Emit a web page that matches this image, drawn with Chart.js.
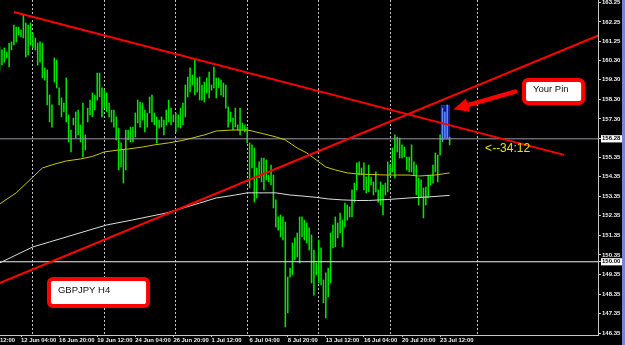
<!DOCTYPE html>
<html>
<head>
<meta charset="utf-8">
<script src="https://cdn.jsdelivr.net/npm/chart.js@4.4.1/dist/chart.umd.min.js"></script>
<style>
  html, body { margin: 0; padding: 0; background: #000; }
  #wrap { width: 622px; height: 345px; border-right: 3px solid #7c84cc; }
</style>
</head>
<body>
<div id="wrap"><canvas id="chart" width="622" height="345"></canvas></div>
<script>
// GBPJPY H4, one entry per bar (bar index 0 = left edge of the picture)
const barHigh = [
  160.97,160.82,160.92,160.71,161.17,161.23,162.09,161.99,161.99,161.84,
  162.60,162.20,162.09,162.20,161.69,161.43,161.17,161.23,161.17,159.90,
  159.80,158.52,158.01,160.41,160.31,158.88,158.37,158.11,159.39,157.50,
  156.73,157.34,157.65,157.75,156.99,158.11,156.48,157.85,158.26,158.62,
  158.52,159.64,159.64,158.88,158.77,158.62,158.11,157.75,157.75,157.40,
  156.83,156.07,155.71,156.73,156.73,156.88,156.88,157.60,158.26,158.16,
  158.11,157.75,157.60,158.42,158.52,157.60,157.40,157.24,157.40,157.24,
  157.75,158.26,157.85,157.50,157.60,157.50,157.85,158.11,159.03,159.44,
  159.90,159.54,160.31,159.39,159.44,159.03,159.18,159.39,159.69,159.03,
  159.95,159.39,159.39,159.28,159.13,159.03,157.91,157.65,157.34,157.85,
  156.99,157.85,157.09,156.99,156.88,156.07,155.97,155.81,154.79,155.10,
  155.30,155.30,155.20,154.43,154.94,154.43,153.16,152.29,152.39,152.29,
  152.03,149.22,149.68,150.96,151.22,151.47,152.29,152.29,152.13,151.98,
  151.73,151.37,150.60,149.94,151.11,150.71,149.07,149.43,149.68,151.47,
  151.88,152.29,151.98,152.49,152.13,153.00,152.90,152.80,153.67,154.02,
  155.05,155.10,154.79,155.05,154.33,154.94,154.33,154.08,154.59,153.67,
  154.08,153.92,154.02,155.10,154.94,155.81,156.48,156.37,156.32,155.97,
  155.86,155.35,155.35,155.97,155.10,154.94,154.28,154.18,153.77,153.82,
  154.43,154.43,154.94,155.56,155.45,156.48,157.85,157.65,158.01,156.37
];
const barLow = [
  159.80,160.05,160.20,160.41,159.95,160.82,161.07,161.23,161.58,161.48,
  161.43,160.46,160.56,161.07,160.92,160.82,160.05,160.20,159.39,159.28,
  158.01,157.14,156.88,159.18,158.88,158.01,157.40,157.65,157.14,156.12,
  155.61,156.99,156.32,156.48,156.12,155.35,155.71,157.14,157.50,157.40,
  157.75,158.26,158.42,157.40,157.85,157.65,157.40,157.14,156.88,156.22,
  154.69,154.84,154.02,154.69,156.22,156.12,156.12,156.37,157.09,156.88,
  157.24,156.63,156.88,157.60,157.14,156.99,156.07,156.83,156.88,156.48,
  156.99,157.14,156.99,157.14,156.63,156.88,156.83,156.99,157.40,158.42,
  158.67,159.03,158.52,158.67,158.26,158.26,158.16,158.62,158.37,158.77,
  158.88,158.37,158.88,158.52,158.42,157.85,156.88,157.14,156.73,156.88,
  156.73,156.48,156.73,156.63,156.07,153.77,154.79,153.05,153.26,154.28,
  154.08,153.67,154.18,154.08,153.92,152.75,151.78,151.62,151.27,151.11,
  146.67,147.39,149.22,149.33,150.09,150.25,149.94,151.27,151.11,150.96,
  150.60,148.92,148.30,149.33,148.92,148.82,147.90,147.13,148.20,148.92,
  150.71,150.76,151.22,151.47,150.76,151.78,152.13,152.29,152.29,153.05,
  153.67,154.43,154.43,153.67,153.51,153.57,153.92,153.41,153.57,153.05,
  152.90,152.39,153.41,153.57,154.43,154.59,154.28,155.61,155.30,155.30,
  155.35,154.69,154.59,154.59,154.43,153.41,152.90,153.31,152.24,152.90,
  153.26,153.92,154.02,154.59,154.08,155.45,156.12,156.32,156.32,155.97
];

// moving averages, read at sample bars
const maYellowIdx = [0,7,14,18,22,28,34,39,44,50,54,60,65,71,77,86,91,98,104,106,111,116,120,125,129,133,137,141,146,150,155,163,172,176,183,189];
const maYellow = [152.95,153.52,154.33,154.79,154.95,155.15,155.25,155.38,155.61,155.71,155.76,155.86,155.97,156.07,156.20,156.48,156.68,156.73,156.73,156.68,156.53,156.38,156.22,155.81,155.56,155.20,154.84,154.69,154.54,154.49,154.46,154.43,154.43,154.38,154.43,154.54];
const maWhiteIdx = [0,14,21,35,45,56,70,78,84,91,99,104,111,116,122,127,133,138,144,150,155,163,172,180,189];
const maWhite = [149.94,150.76,151.01,151.52,151.88,152.14,152.49,152.78,153.00,153.26,153.41,153.52,153.52,153.52,153.41,153.36,153.29,153.21,153.16,153.13,153.13,153.18,153.26,153.31,153.39];

// drawn objects
const trendDown = [{x: 6.06, y: 162.76}, {x: 237.05, y: 155.46}];
const trendUp = [{x: -5, y: 148.66}, {x: 255, y: 161.74}];
const bidPrice = 156.28;
const levelPrice = 150.00;
const pinBox = [185.3, 189.0, 156.22, 158.01];   // bar from, bar to, low, high
const pinBars = [186, 188];

// axes
const timeTickIdx = [-7, 9, 25, 41, 57, 73, 89, 105, 121, 137, 153, 169, 185];
const timeTickLabels = ['9 Jun 12:00', '12 Jun 04:00', '16 Jun 20:00', '19 Jun 12:00', '24 Jun 04:00', '26 Jun 20:00',
  '1 Jul 12:00', '6 Jul 04:00', '8 Jul 20:00', '13 Jul 12:00', '16 Jul 04:00', '20 Jul 20:00', '23 Jul 12:00'];
const gridIdx = [14, 44, 74, 104, 134, 164, 200.5];
const priceTicks = [163.25, 162.25, 161.25, 160.30, 159.30, 158.30, 157.30, 156.28, 155.35, 154.35,
  153.35, 152.35, 151.35, 150.35, 150.00, 149.35, 148.35, 147.35, 146.35];

const isMarked = v => v === bidPrice || v === levelPrice;

function hline(v) {
  return [{x: -5, y: v}, {x: 255, y: v}];
}

function roundRect(ctx, x, y, w, h, r) {
  ctx.beginPath();
  ctx.moveTo(x + r, y);
  ctx.arcTo(x + w, y, x + w, y + h, r);
  ctx.arcTo(x + w, y + h, x, y + h, r);
  ctx.arcTo(x, y + h, x, y, r);
  ctx.arcTo(x, y, x + w, y, r);
  ctx.closePath();
}

function drawCallout(chart, c) {
  const {x, y} = chart.scales;
  const ctx = chart.ctx;
  const l = x.getPixelForValue(c.from), r = x.getPixelForValue(c.to);
  const t = y.getPixelForValue(c.top), b = y.getPixelForValue(c.bottom);
  ctx.save();
  roundRect(ctx, l + 2, t + 2, r - l - 4, b - t - 4, 4);
  ctx.fillStyle = '#fff';
  ctx.fill();
  ctx.lineWidth = 4;
  ctx.strokeStyle = '#ff0000';
  ctx.stroke();
  ctx.fillStyle = '#111';
  ctx.font = '9.5px "Liberation Sans"';
  ctx.textBaseline = 'middle';
  ctx.fillText(c.text, l + 11, t + (b - t) * 0.43);
  ctx.restore();
}

const callouts = [
  {from: 219.4, to: 245.9, top: 159.39, bottom: 158.01, text: 'Your Pin'},
  {from: 19.9, to: 63.2, top: 149.22, bottom: 147.64, text: 'GBPJPY H4'}
];
const arrowTail = {x: 216.5, y: 158.69};
const arrowTip = {x: 190.6, y: 157.79};
const countdown = {x: 203.9, y: 155.76, text: '<--34:12'};

const mt4Plugin = {
  id: 'mt4',
  beforeDraw(chart) {
    const ctx = chart.ctx;
    ctx.save();
    ctx.fillStyle = '#000';
    ctx.fillRect(0, 0, chart.width, chart.height);
    ctx.restore();
  },
  beforeDatasetsDraw(chart) {
    const {x, y} = chart.scales;
    const ctx = chart.ctx;
    const l = x.getPixelForValue(pinBox[0]), r = x.getPixelForValue(pinBox[1]);
    const t = y.getPixelForValue(pinBox[3]), b = y.getPixelForValue(pinBox[2]);
    ctx.save();
    ctx.fillStyle = '#0b1888';
    ctx.fillRect(l, t, r - l, b - t);
    ctx.strokeStyle = '#1a2fc0';
    ctx.lineWidth = 1;
    ctx.strokeRect(l + 0.5, t + 0.5, r - l - 1, b - t - 1);
    ctx.restore();
  },
  afterDatasetsDraw(chart) {
    const {x, y} = chart.scales;
    const ctx = chart.ctx;

    callouts.forEach(c => drawCallout(chart, c));

    // red arrow pointing at the pin
    const tx = x.getPixelForValue(arrowTail.x), ty = y.getPixelForValue(arrowTail.y);
    const hx = x.getPixelForValue(arrowTip.x), hy = y.getPixelForValue(arrowTip.y);
    const len = Math.hypot(tx - hx, ty - hy);
    const ux = (tx - hx) / len, uy = (ty - hy) / len;
    const bx = hx + ux * 15, by = hy + uy * 15;
    ctx.save();
    ctx.strokeStyle = '#ff0000';
    ctx.fillStyle = '#ff0000';
    ctx.lineWidth = 4.5;
    ctx.lineCap = 'round';
    ctx.beginPath();
    ctx.moveTo(tx, ty);
    ctx.lineTo(bx, by);
    ctx.stroke();
    ctx.beginPath();
    ctx.moveTo(hx, hy);
    ctx.lineTo(bx - uy * 7, by + ux * 7);
    ctx.lineTo(bx + uy * 7, by - ux * 7);
    ctx.closePath();
    ctx.fill();

    // bar timer
    ctx.fillStyle = '#e6e600';
    ctx.font = '12px "Liberation Sans"';
    ctx.textBaseline = 'middle';
    ctx.fillText(countdown.text, x.getPixelForValue(countdown.x), y.getPixelForValue(countdown.y));
    ctx.restore();
  }
};

const chart = new Chart(document.getElementById('chart'), {
  type: 'bar',
  data: {
    datasets: [
      {type: 'line', data: trendDown, borderColor: '#ff0000', borderWidth: 2, pointRadius: 0, order: 1},
      {type: 'line', data: trendUp, borderColor: '#ff0000', borderWidth: 2, pointRadius: 0, order: 1},
      {type: 'line', data: maYellowIdx.map((v, i) => ({x: v, y: maYellow[i]})), borderColor: '#c8c800', borderWidth: 1, pointRadius: 0, order: 2},
      {type: 'line', data: maWhiteIdx.map((v, i) => ({x: v, y: maWhite[i]})), borderColor: '#dcdcdc', borderWidth: 1, pointRadius: 0, order: 2},
      {type: 'line', data: hline(bidPrice), borderColor: '#9a9aa8', borderWidth: 1, pointRadius: 0, order: 3},
      {type: 'line', data: hline(levelPrice), borderColor: '#f0f0f0', borderWidth: 1, pointRadius: 0, order: 3},
      {
        type: 'bar',
        data: barHigh.map((h, i) => ({x: i, y: [barLow[i], h]})),
        backgroundColor: barHigh.map((h, i) => (i >= pinBars[0] && i <= pinBars[1]) ? '#5d8bff' : '#00e400'),
        borderWidth: 0,
        barThickness: 0.9,
        grouped: false,
        order: 4
      }
    ]
  },
  options: {
    responsive: false,
    animation: false,
    events: [],
    layout: {padding: 0, autoPadding: false},
    plugins: {legend: {display: false}, tooltip: {enabled: false}},
    scales: {
      x: {
        type: 'linear', position: 'bottom', min: 0.18, max: 251.3, offset: false,
        afterBuildTicks: s => { s.ticks = timeTickIdx.map(v => ({value: v})); },
        afterFit: s => { s.height = 10; s.paddingLeft = 0; s.paddingRight = 0; },
        ticks: {
          autoSkip: false, maxRotation: 0, minRotation: 0, align: 'start', padding: 0,
          color: '#f0f0f0', font: {family: 'Liberation Sans', size: 5.9, weight: 'bold'},
          callback: (v, i) => timeTickLabels[i]
        },
        grid: {drawOnChartArea: false, offset: false, tickLength: 2, tickColor: '#c8c8c8'},
        border: {color: '#c8c8c8'}
      },
      xGrid: {
        type: 'linear', position: 'top', min: 0.18, max: 251.3, offset: false,
        afterBuildTicks: s => { s.ticks = gridIdx.map(v => ({value: v})); },
        afterFit: s => { s.height = 0; s.paddingLeft = 0; s.paddingRight = 0; },
        ticks: {display: false},
        grid: {drawTicks: false, offset: false, color: '#c4c4c4', lineWidth: 1},
        border: {display: false, dash: [2, 2]}
      },
      y: {
        type: 'linear', position: 'right', min: 146.26, max: 163.37,
        afterBuildTicks: s => { s.ticks = priceTicks.map(v => ({value: v})); },
        afterFit: s => { s.width = 24; s.paddingTop = 0; s.paddingBottom = 0; },
        ticks: {
          padding: 1, font: {family: 'Liberation Sans', size: 6, weight: 'bold'},
          color: ctx => isMarked(ctx.tick.value) ? '#000000' : '#f0f0f0',
          showLabelBackdrop: ctx => isMarked(ctx.tick.value),
          backdropColor: '#ffffff',
          backdropPadding: {left: 1, right: 2, top: 0, bottom: 0},
          callback: v => v.toFixed(2)
        },
        grid: {drawOnChartArea: false, tickLength: 3, tickColor: '#c8c8c8'},
        border: {color: '#c8c8c8'}
      }
    }
  },
  plugins: [mt4Plugin]
});
</script>
</body>
</html>
